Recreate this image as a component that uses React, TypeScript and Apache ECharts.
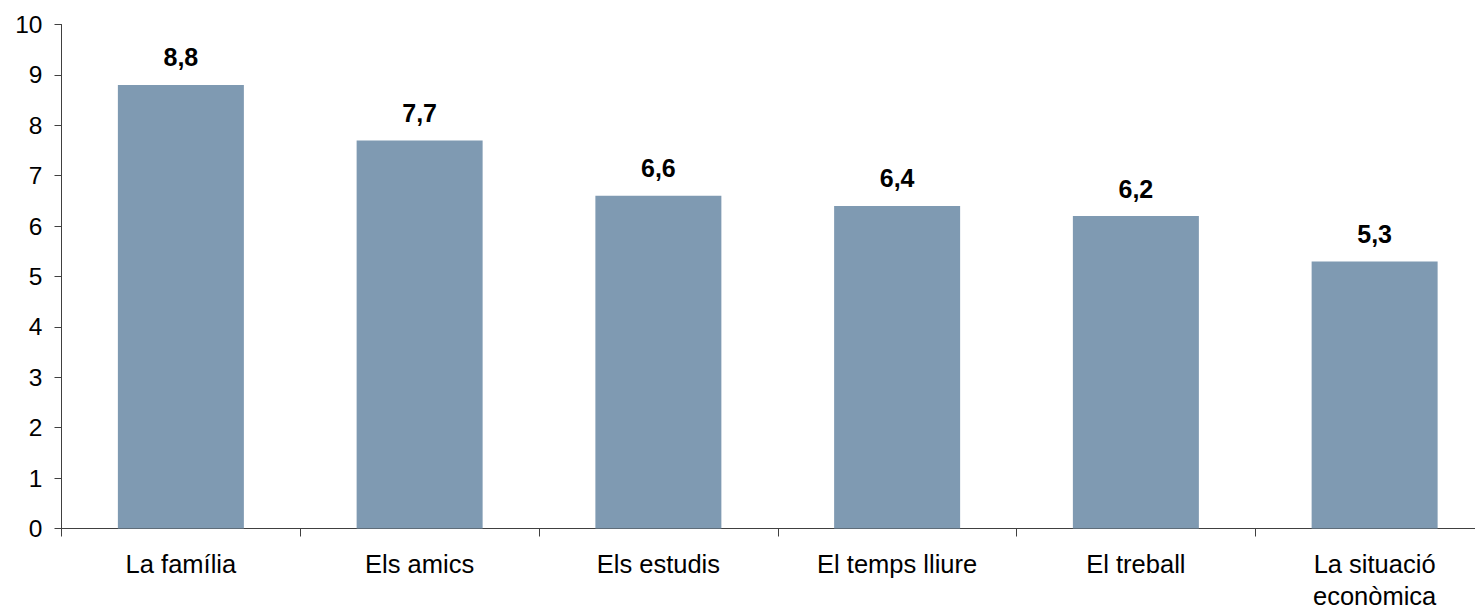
import React, { useEffect, useRef } from "react";
import * as echarts from "echarts";

const categories = ["La família", "Els amics", "Els estudis", "El temps lliure", "El treball", "La situació\neconòmica"];
const values = [8.8, 7.7, 6.6, 6.4, 6.2, 5.3];
const yMin = 0;
const yMax = 10;
const yInterval = 1;

const FONT = "'Liberation Sans', Arial, sans-serif";

export default function App() {
  const ref = useRef<HTMLDivElement>(null);
  useEffect(() => {
    if (!ref.current) return;
    document.body.style.overflow = "hidden";
    const chart = echarts.init(ref.current, null, { renderer: "svg" });
    chart.setOption({
      animation: false,
      backgroundColor: "#ffffff",
      grid: {
        left: 61.5,
        right: 0,
        top: 24.5,
        bottom: 82.5,
        containLabel: false,
        outerBoundsMode: "none",
      },
      xAxis: {
        type: "category",
        data: categories,
        axisLine: { show: true, lineStyle: { color: "#404040", width: 1 } },
        axisTick: { show: true, alignWithLabel: false, length: 8, lineStyle: { color: "#404040" } },
        axisLabel: {
          color: "#000",
          fontFamily: FONT,
          fontSize: 25.5,
          margin: 19,
          lineHeight: 32,
          interval: 0,
        },
      },
      yAxis: {
        type: "value",
        min: yMin,
        max: yMax,
        interval: yInterval,
        axisLine: { show: true, lineStyle: { color: "#404040", width: 1 } },
        axisTick: { show: true, length: 7, inside: false, lineStyle: { color: "#404040" } },
        splitLine: { show: false },
        axisLabel: {
          color: "#000",
          fontFamily: FONT,
          fontSize: 24.5,
          margin: 19,
        },
      },
      series: [
        {
          type: "bar",
          data: values,
          barWidth: 126,
          itemStyle: { color: "#7f9ab2" },
          label: {
            show: true,
            position: "top",
            distance: 15,
            color: "#000",
            fontFamily: FONT,
            fontWeight: "bold",
            fontSize: 25,
            formatter: (p: any) => String(p.value.toFixed(1)).replace(".", ","),
          },
        },
      ],
    });
    return () => chart.dispose();
  }, []);
  return (
    <div
      ref={ref}
      style={{ position: "absolute", left: 0, top: 0, width: 1494, height: 611 }}
    />
  );
}
